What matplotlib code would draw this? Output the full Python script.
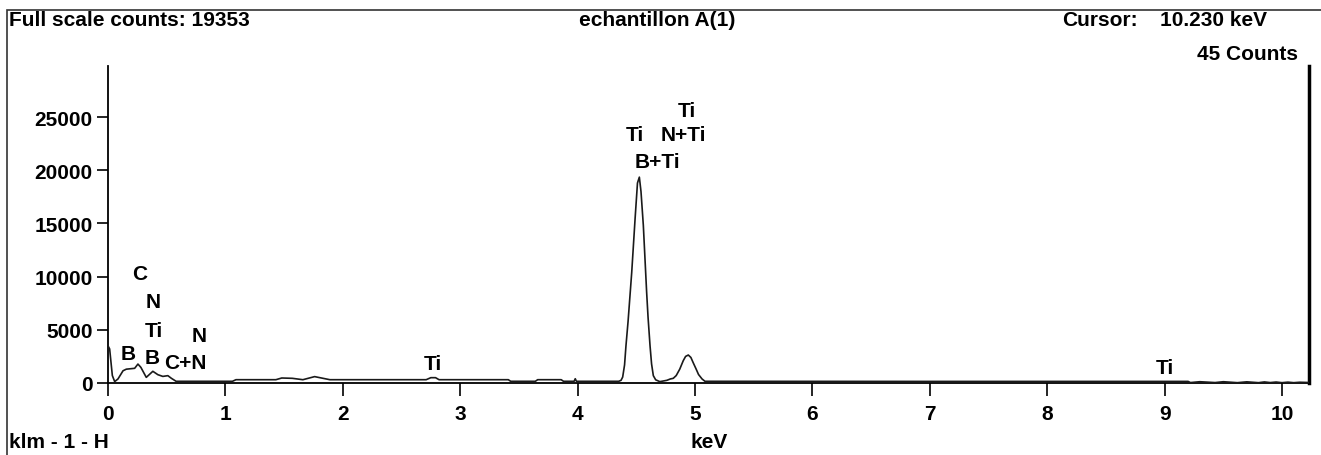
import matplotlib as mpl
mpl.use('Agg')
import matplotlib.pyplot as plt
from matplotlib.patches import Rectangle

# spectrum (keV, counts)
energy = [0.000, 0.014, 0.037, 0.057, 0.085, 0.128, 0.156, 0.227, 0.255, 0.280,
          0.326, 0.382, 0.425, 0.467, 0.510, 0.540, 0.580, 1.060, 1.090, 1.430,
          1.480, 1.570, 1.660, 1.760, 1.890, 2.710, 2.750, 2.790, 2.820, 3.410,
          3.430, 3.640, 3.660, 3.860, 3.880, 3.970, 3.980, 3.990, 4.350, 4.370,
          4.384, 4.400, 4.412, 4.430, 4.461, 4.490, 4.510, 4.526, 4.540, 4.560,
          4.588, 4.600, 4.617, 4.630, 4.645, 4.665, 4.700, 4.716, 4.760, 4.790,
          4.815, 4.840, 4.870, 4.900, 4.920, 4.943, 4.965, 4.985, 5.010, 5.030,
          5.060, 5.085, 7.000, 9.200, 9.220, 9.300, 9.430, 9.500, 9.620, 9.700,
          9.800, 9.850, 9.900, 9.950, 10.000, 10.050, 10.100, 10.150, 10.230]
counts = [3500, 3200, 700, 130, 380, 1150, 1300, 1380, 1780, 1470,
          530, 1100, 780, 620, 690, 440, 160, 160, 310, 310,
          470, 440, 310, 600, 310, 310, 500, 500, 310, 310,
          160, 160, 310, 310, 160, 160, 400, 160, 160, 250,
          560, 1700, 3500, 5800, 10400, 15500, 18800, 19353, 18000, 14800,
          8550, 6200, 3500, 1800, 690, 300, 130, 160, 250, 380,
          440, 700, 1300, 2100, 2500, 2630, 2400, 1900, 1300, 800,
          380, 160, 150, 150, 40, 120, 40, 120, 30, 110,
          30, 100, 40, 90, 30, 80, 30, 70, 45]

# element markers: (text, keV, counts)
marker_text = ['C', 'N', 'Ti', 'B', 'B', 'C+N', 'N', 'Ti',
               'Ti', 'Ti', 'N+Ti', 'B+Ti', 'Ti']
marker_x = [0.273, 0.384, 0.392, 0.17, 0.375, 0.656, 0.775, 2.77,
            4.93, 4.49, 4.90, 4.68, 9.00]
marker_y = [10250, 7650, 4890, 2730, 2440, 1970, 4420, 1790,
            25660, 23400, 23400, 20830, 1500]

xticks = list(range(0, 11))
yticks = [0, 5000, 10000, 15000, 20000, 25000]

W, H = 1321, 456
plt.rcParams['font.family'] = ['Liberation Sans', 'DejaVu Sans']
plt.rcParams['font.weight'] = 'bold'
FS = 15

fig = plt.figure(figsize=(W / 100, H / 100), dpi=100)

def fx(px):
    return px / W

def fy(py):
    return 1 - py / H

# outer frame
fig.patches.append(Rectangle((fx(7), -0.1), 1.2, fy(11) + 0.1, transform=fig.transFigure,
                             fill=False, edgecolor='#333333', linewidth=1.2))

ax = fig.add_axes([fx(108), fy(384), fx(1309) - fx(108), fy(67) - fy(384)])
ax.plot(energy, counts, color='#1a1a1a', linewidth=1.2, zorder=3)
ax.set_xlim(0, 10.23)
ax.set_ylim(0, 29800)

ax.spines['top'].set_visible(False)
ax.spines['left'].set_linewidth(1.3)
ax.spines['bottom'].set_linewidth(1.3)
ax.spines['right'].set_linewidth(2.5)
ax.spines['right'].set_color('black')

ax.set_xticks(xticks)
ax.set_xticklabels([str(v) for v in xticks])
ax.set_yticks(yticks)
ax.set_yticklabels([str(v) for v in yticks])
ax.tick_params(axis='x', direction='out', length=9, width=1.2, pad=6, labelsize=FS)
ax.tick_params(axis='y', direction='out', length=8, width=1.2, pad=3, labelsize=FS)
ax.tick_params(axis='y', right=False)

for t, x, y in zip(marker_text, marker_x, marker_y):
    ax.text(x, y, t, ha='center', va='center', fontsize=FS, fontweight='bold')

# header / footer texts
fig.text(fx(9), fy(21), 'Full scale counts: 19353', ha='left', va='center', fontsize=FS, fontweight='bold')
fig.text(fx(657), fy(21), 'echantillon A(1)', ha='center', va='center', fontsize=FS, fontweight='bold')
fig.text(fx(1138), fy(21), 'Cursor:', ha='right', va='center', fontsize=FS, fontweight='bold')
fig.text(fx(1160), fy(21), '10.230 keV', ha='left', va='center', fontsize=FS, fontweight='bold')
fig.text(fx(1298), fy(55), '45 Counts', ha='right', va='center', fontsize=FS, fontweight='bold')
fig.text(fx(9), fy(443), 'klm - 1 - H', ha='left', va='center', fontsize=FS, fontweight='bold')
fig.text(fx(709), fy(443), 'keV', ha='center', va='center', fontsize=FS, fontweight='bold')

plt.savefig('out.png', dpi=100, facecolor='white')
plt.close(fig)
